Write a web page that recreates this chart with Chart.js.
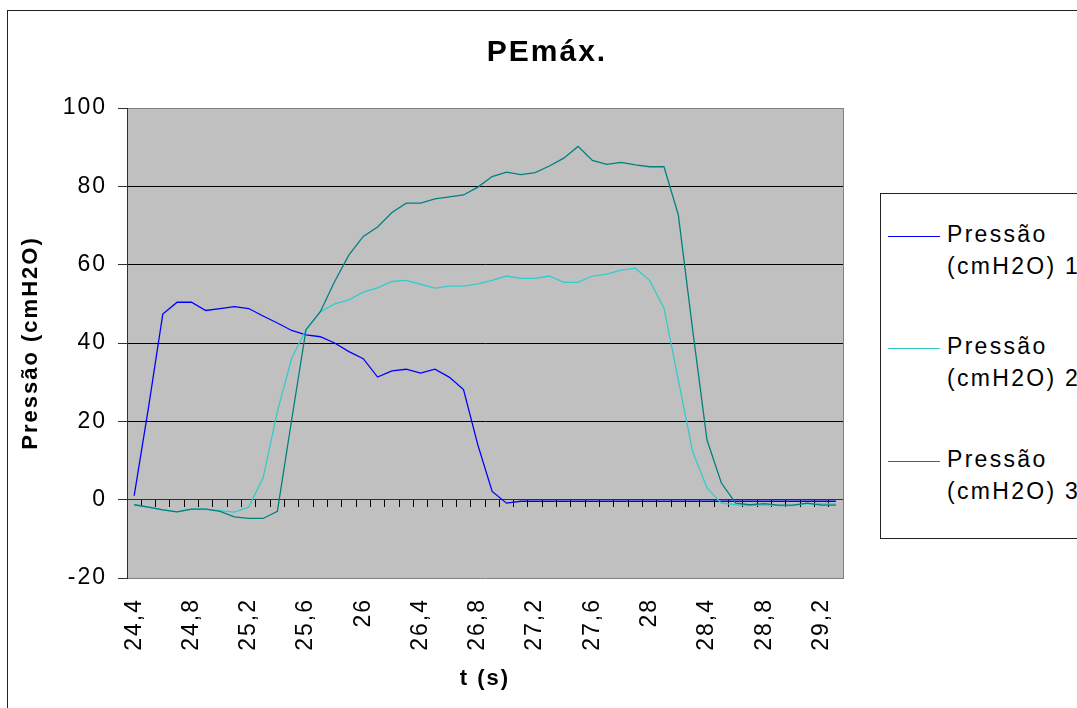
<!DOCTYPE html>
<html lang="pt">
<head>
<meta charset="utf-8">
<title>PEmáx.</title>
<script src="https://cdn.jsdelivr.net/npm/chart.js@4.4.1/dist/chart.umd.min.js"></script>
<style>
  html, body { margin: 0; padding: 0; background: #fff; overflow: hidden; }
  body { width: 1077px; height: 708px; position: relative; font-family: 'Liberation Sans', Arial, sans-serif; }
  #frame { position: absolute; left: 7px; top: 10px; width: 1200px; height: 800px; border: 1px solid #222; box-sizing: border-box; }
  #chart { position: absolute; left: 0; top: 0; }
  #legend { position: absolute; left: 880px; top: 193px; width: 300px; height: 346px; border: 1px solid #222; box-sizing: border-box; background: #fff; }
  .swatch { position: absolute; left: 888px; width: 52px; height: 0; border-top: 1.3px solid #000; }
  .entry { position: absolute; left: 947px; font-size: 23px; line-height: 32px; letter-spacing: 2.3px; color: #000; white-space: nowrap; }
</style>
</head>
<body>
<div id="frame"></div>
<canvas id="chart" width="1077" height="708"></canvas>
<div id="legend"></div>
<script>
// Time axis (s), one sample every 0.1 s
const times = [
  24.4, 24.5, 24.6, 24.7, 24.8, 24.9,
  25.0, 25.1, 25.2, 25.3, 25.4, 25.5, 25.6, 25.7, 25.8, 25.9,
  26.0, 26.1, 26.2, 26.3, 26.4, 26.5, 26.6, 26.7, 26.8, 26.9,
  27.0, 27.1, 27.2, 27.3, 27.4, 27.5, 27.6, 27.7, 27.8, 27.9,
  28.0, 28.1, 28.2, 28.3, 28.4, 28.5, 28.6, 28.7, 28.8, 28.9,
  29.0, 29.1, 29.2, 29.3
];

// Category labels printed under the axis
const shownTicks = ['24,4', '24,8', '25,2', '25,6', '26', '26,4', '26,8', '27,2', '27,6', '28', '28,4', '28,8', '29,2'];

// Pressure axis ticks (cmH2O)
const yTicks = [-20, 0, 20, 40, 60, 80, 100];

const seriesNames = ['Pressão (cmH2O) 1', 'Pressão (cmH2O) 2', 'Pressão (cmH2O) 3'];

// Maximal expiratory pressure, three attempts (cmH2O)
const pressao1 = [
  1.0, 23.5, 47.4, 50.4, 50.4, 48.3, 48.8, 49.3, 48.8, 46.9,
  45.1, 43.2, 42.1, 41.6, 40.0, 37.8, 36.0, 31.3, 32.9, 33.3,
  32.3, 33.3, 31.3, 28.1, 14.0, 2.1, -0.9, -0.4, -0.4, -0.4,
  -0.4, -0.4, -0.4, -0.4, -0.4, -0.4, -0.4, -0.4, -0.4, -0.4,
  -0.4, -0.4, -0.4, -0.4, -0.4, -0.4, -0.4, -0.4, -0.4, -0.4
];
const pressao2 = [
  -1.3, -1.9, -2.6, -3.1, -2.4, -2.4, -2.8, -3.2, -1.9, 5.5,
  22.5, 36.1, 43.4, 48.0, 50.0, 51.0, 53.0, 54.1, 55.7, 56.0,
  55.0, 54.0, 54.5, 54.5, 55.1, 56.0, 57.1, 56.5, 56.5, 57.1,
  55.5, 55.5, 57.1, 57.6, 58.6, 59.1, 56.0, 48.9, 30.6, 12.3,
  3.0, -0.9, -1.3, -1.5, -1.3, -1.5, -1.5, -1.0, -1.1, -1.1
];
const pressao3 = [
  -1.3, -1.9, -2.6, -3.1, -2.4, -2.4, -3.0, -4.4, -4.8, -4.8,
  -3.0, 20.4, 43.4, 48.0, 55.7, 62.5, 67.2, 69.6, 73.3, 75.7,
  75.7, 76.8, 77.3, 77.8, 79.8, 82.5, 83.6, 83.0, 83.5, 85.2,
  87.2, 90.2, 86.6, 85.6, 86.1, 85.5, 85.0, 85.0, 72.7, 43.4,
  15.3, 4.3, -0.9, -1.3, -1.0, -1.4, -1.4, -0.9, -1.4, -1.4
];

const seriesColors = ['#0000ff', '#33cccc', '#008080'];

const FONT = "'Liberation Sans', Arial, sans-serif";
const categories = times.map(t => String(t).replace('.', ','));

// Grey plot background and the letter spacing used by the chart's text
const plotStyle = {
  id: 'plotStyle',
  beforeUpdate(chart) { chart.ctx.letterSpacing = '2px'; },
  beforeLayout(chart) { chart.ctx.letterSpacing = '2px'; },
  beforeDraw(chart) {
    const {ctx, chartArea: a} = chart;
    ctx.save();
    ctx.fillStyle = '#c0c0c0';
    ctx.fillRect(a.left, a.top, a.right - a.left, a.bottom - a.top);
    ctx.restore();
    ctx.letterSpacing = '2px';
  }
};

const datasets = [pressao1, pressao2, pressao3].map((values, i) => ({
  label: seriesNames[i],
  data: values,
  borderColor: seriesColors[i],
  backgroundColor: seriesColors[i],
  borderWidth: 1.3,
  pointRadius: 0,
  tension: 0,
  fill: false,
  order: 3 - i
}));

const chart = new Chart(document.getElementById('chart'), {
  type: 'line',
  data: { labels: categories, datasets },
  plugins: [plotStyle],
  options: {
    responsive: false,
    animation: false,
    events: [],
    layout: { padding: { left: 17, right: 0, top: 0, bottom: 0 } },
    plugins: {
      legend: { display: false },
      tooltip: { enabled: false },
      title: {
        display: true,
        text: 'PEmáx.',
        color: '#000',
        font: { family: FONT, size: 30, weight: 'bold' },
        padding: { top: 35, bottom: 37 }
      }
    },
    scales: {
      x: {
        type: 'category',
        position: 'bottom',
        offset: true,
        grid: { drawOnChartArea: false, drawTicks: false, offset: true },
        border: { display: true, color: '#808080', width: 1 },
        ticks: {
          autoSkip: false,
          minRotation: 90,
          maxRotation: 90,
          padding: 20,
          color: '#000',
          font: { family: FONT, size: 23 },
          callback: function (value) {
            const lab = this.getLabelForValue(value);
            return shownTicks.includes(lab) ? lab : '';
          }
        },
        title: {
          display: true,
          text: 't (s)',
          color: '#000',
          font: { family: FONT, size: 22, weight: 'bold' },
          padding: { top: 0, bottom: 16 }
        },
        afterFit: s => { s.height = 130; }
      },
      xZero: {
        type: 'category',
        axis: 'x',
        position: { y: 0 },
        offset: true,
        grid: { drawOnChartArea: false, drawTicks: true, tickLength: 7, offset: true, tickColor: '#000' },
        border: { display: true, color: '#303030', width: 1 },
        ticks: { display: false },
        afterFit: s => { s.height = 0; }
      },
      y: {
        type: 'linear',
        position: 'left',
        min: yTicks[0],
        max: yTicks[yTicks.length - 1],
        ticks: {
          stepSize: yTicks[1] - yTicks[0],
          padding: 11,
          color: '#000',
          font: { family: FONT, size: 23 }
        },
        grid: {
          drawTicks: true,
          tickLength: 9,
          tickColor: '#303030',
          lineWidth: 1,
          color: c => {
            const v = c.tick ? c.tick.value : null;
            if (v === yTicks[yTicks.length - 1]) return '#808080';
            if (v === yTicks[0]) return 'rgba(0,0,0,0)';
            return '#000';
          }
        },
        border: { display: true, color: '#303030', width: 1 },
        title: {
          display: true,
          text: 'Pressão (cmH2O)',
          color: '#000',
          font: { family: FONT, size: 22, weight: 'bold' },
          padding: { top: 1, bottom: 0 }
        },
        afterFit: s => { s.width = 110; }
      },
      side: {
        type: 'linear',
        position: 'right',
        min: 0,
        max: 1,
        grid: { drawOnChartArea: false, drawTicks: false },
        border: { display: true, color: '#808080', width: 1 },
        ticks: { display: false },
        afterFit: s => { s.width = 234; }
      }
    }
  }
});

// Legend built from the chart's datasets
const legendBox = document.getElementById('legend');
chart.data.datasets.forEach((ds, i) => {
  const top = 217.7 + i * 112.6;
  const sw = document.createElement('div');
  sw.className = 'swatch';
  sw.style.top = (top + 18) + 'px';
  sw.style.borderTopColor = ds.borderColor;
  document.body.appendChild(sw);
  const cut = ds.label.indexOf(' ');
  const entry = document.createElement('div');
  entry.className = 'entry';
  entry.style.top = top + 'px';
  const l1 = document.createElement('div');
  l1.textContent = ds.label.slice(0, cut);
  const l2 = document.createElement('div');
  l2.textContent = ds.label.slice(cut + 1);
  entry.appendChild(l1);
  entry.appendChild(l2);
  document.body.appendChild(entry);
});
</script>
</body>
</html>
